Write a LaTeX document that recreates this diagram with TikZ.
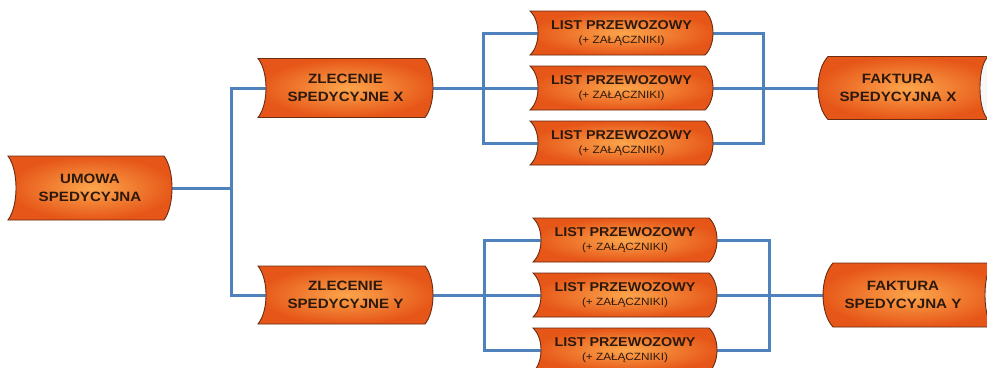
\documentclass[tikz,border=0pt]{standalone}
\usepackage{fontspec}
\newfontfamily\boxfont[FakeStretch=1.12]{Liberation Sans}
\usetikzlibrary{backgrounds}

\definecolor{boxlight}{RGB}{252,165,75}
\definecolor{boxdark}{RGB}{230,86,24}
\definecolor{boxline}{RGB}{105,45,18}
\definecolor{linkblue}{RGB}{79,129,189}
\definecolor{shadowcol}{RGB}{210,218,233}
\definecolor{txtcol}{RGB}{45,25,12}

\tikzset{
  doc/.style={font=\boxfont\fontsize{13.5}{18}\selectfont\bfseries, text=txtcol, align=center, inner sep=0pt},
  list/.style={font=\boxfont\fontsize{12.8}{14}\selectfont, text=txtcol, align=center, inner sep=0pt},
  link/.style={linkblue, line width=3pt},
  face/.style={shade, shading=radial, inner color=boxlight, outer color=boxdark, draw=boxline, line width=0.9pt},
  docshadow/.style={fill=shadowcol, xshift=3pt, yshift=-4pt},
  endcap/.style={fill=gray!6, draw=boxline, line width=0.9pt}
}

% box with hollow left side and round right side
\newcommand{\tapebox}[4]{%
  \path[#4, shift={(#1.center)}] (-#2,-#3) -- (#2-8,-#3)
    .. controls (#2+2.7,-0.55*#3) and (#2+2.7,0.55*#3) .. (#2-8,#3)
    -- (-#2,#3) .. controls (-#2+10.7,0.55*#3) and (-#2+10.7,-0.55*#3) .. cycle;}
% lying drum, cut by the right margin
\newcommand{\drumbox}[3]{%
  \path[#3, shift={(#1.center)}] (-70,-#2) -- (92,-#2)
    arc[start angle=-90, end angle=90, x radius=10, y radius=#2]
    -- (-70,#2) .. controls (-83.3,0.55*#2) and (-83.3,-0.55*#2) .. cycle;}

\begin{document}
\begin{tikzpicture}[x=1pt, y=-1pt]
  \useasboundingbox (0,0) rectangle (987,367);

  \node[doc] (umowa) at (90,188) {UMOWA\\SPEDYCYJNA};
  \node[doc] (zlx) at (345.5,88) {ZLECENIE\\SPEDYCYJNE X};
  \node[doc] (zly) at (345.5,295) {ZLECENIE\\SPEDYCYJNE Y};
  \foreach \i/\y in {1/33,2/88,3/143}
    \node[list] (lx\i) at (621.5,\y) {{\bfseries LIST PRZEWOZOWY}\\{\fontsize{10.5}{14}\selectfont(+ ZAŁĄCZNIKI)}};
  \foreach \i/\y in {1/240,2/295,3/350}
    \node[list] (ly\i) at (625,\y) {{\bfseries LIST PRZEWOZOWY}\\{\fontsize{10.5}{14}\selectfont(+ ZAŁĄCZNIKI)}};
  \node[doc] (fx) at (898,88) {FAKTURA\\SPEDYCYJNA X};
  \node[doc] (fy) at (903,295) {FAKTURA\\SPEDYCYJNA Y};

  \coordinate (b1) at (231,188);
  \coordinate (b2) at (483,88);
  \coordinate (b3) at (763,88);
  \coordinate (b4) at (484,295);
  \coordinate (b5) at (769,295);

  \begin{pgfonlayer}{background}
    \fill[white] (0,0) rectangle (987,367);
    % shadows
    \foreach \n/\w/\h in {umowa/82/32, zlx/87.5/29.5, zly/87.5/29,
        lx1/91.5/22, lx2/91.5/22, lx3/91.5/22, ly1/92/22, ly2/92/22, ly3/92/22}
      \tapebox{\n}{\w}{\h}{docshadow};
    \drumbox{fx}{31.5}{docshadow};
    \drumbox{fy}{32}{docshadow};
    % links
    \draw[link] (umowa) -- (b1);
    \draw[link] (zlx) -| (b1) |- (zly);
    \draw[link] (zlx) -- (lx2);
    \draw[link] (lx1) -| (b2) |- (lx3);
    \draw[link] (lx1) -| (b3) |- (lx3);
    \draw[link] (lx2) -- (fx);
    \draw[link] (zly) -- (ly2);
    \draw[link] (ly1) -| (b4) |- (ly3);
    \draw[link] (ly1) -| (b5) |- (ly3);
    \draw[link] (ly2) -- (fy);
    % boxes
    \foreach \n/\w/\h in {umowa/82/32, zlx/87.5/29.5, zly/87.5/29,
        lx1/91.5/22, lx2/91.5/22, lx3/91.5/22, ly1/92/22, ly2/92/22, ly3/92/22}
      \tapebox{\n}{\w}{\h}{face};
    \drumbox{fx}{31.5}{face};
    \drumbox{fy}{32}{face};
    \path[endcap] (fx) ++(92,0) ellipse[x radius=10, y radius=31.5];
    \path[endcap] (fy) ++(92,0) ellipse[x radius=10, y radius=32];
  \end{pgfonlayer}
\end{tikzpicture}
\end{document}
